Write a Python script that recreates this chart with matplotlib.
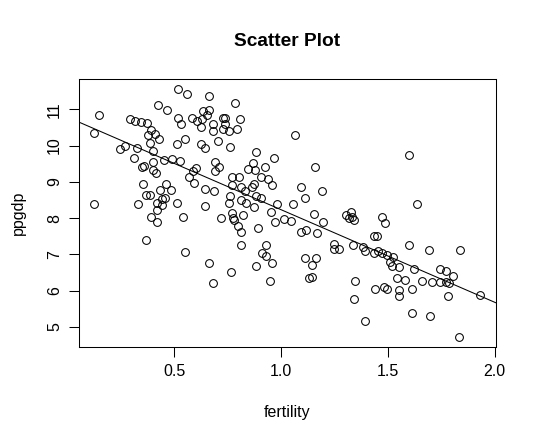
"""Scatter plot of log ppgdp vs log fertility with a least-squares line, R base-graphics look."""

import matplotlib

matplotlib.use("Agg")
import matplotlib.pyplot as plt  # noqa: E402
import numpy as np  # noqa: E402

plt.rcParams["font.family"] = ["Liberation Sans", "DejaVu Sans"]

# values (log scale, as plotted)
fertility = [
    0.519, 0.426, 0.468, 0.150, 0.519, 0.532, 0.293, 0.317, 0.346, 0.373,
    0.392, 0.410, 0.376, 0.431, 0.126, 0.388, 0.512, 0.270, 0.248, 0.326,
    0.401, 0.314, 0.401, 0.454, 0.489, 0.529, 0.348, 0.359, 0.401, 0.415,
    0.356, 0.463, 0.435, 0.487, 0.368, 0.388, 0.457, 0.445, 0.126, 0.332,
    0.421, 0.445, 0.512, 0.421, 0.551, 0.562, 0.664, 0.786, 0.636, 0.664,
    0.655, 0.630, 0.584, 0.606, 0.683, 0.730, 0.739, 0.737, 0.758, 0.730,
    0.796, 0.810, 0.624, 0.683, 0.707, 0.627, 0.643, 0.761, 0.884, 0.969,
    0.693, 0.711, 0.693, 0.870, 0.847, 0.880, 0.927, 0.602, 0.587, 0.571,
    0.593, 0.771, 0.802, 0.908, 0.938, 0.958, 0.771, 0.814, 0.864, 0.874,
    0.643, 0.686, 0.830, 0.761, 0.883, 0.908, 0.814, 0.839, 0.758, 0.983,
    0.646, 0.874, 0.955, 0.771, 0.824, 1.067, 1.161, 1.094, 1.193, 1.112,
    1.058, 1.153, 1.326, 1.307, 1.331, 1.342, 1.320, 1.600, 1.635, 0.393,
    0.421, 0.543, 0.368, 0.551, 0.721, 0.777, 0.781, 0.971, 1.015, 0.800,
    0.814, 0.894, 0.814, 0.931, 0.912, 0.931, 0.662, 0.884, 0.959, 0.767,
    0.683, 0.949, 1.474, 1.488, 1.047, 1.195, 1.094, 1.116, 1.170, 1.434,
    1.451, 1.249, 1.247, 1.273, 1.336, 1.382, 1.393, 1.434, 1.453, 1.471,
    1.497, 1.524, 1.509, 1.519, 1.555, 1.112, 1.162, 1.146, 1.146, 1.131,
    1.346, 1.440, 1.481, 1.496, 1.343, 1.393, 1.598, 1.691, 1.839, 1.622,
    1.744, 1.772, 1.806, 1.544, 1.580, 1.661, 1.705, 1.744, 1.772, 1.785,
    1.554, 1.551, 1.614, 1.783, 1.933, 1.614, 1.699, 1.834,
]
ppgdp = [
    11.57, 11.13, 10.97, 10.84, 10.76, 10.59, 10.72, 10.69, 10.66, 10.62,
    10.43, 10.33, 10.28, 10.19, 10.36, 10.07, 10.04, 9.98, 9.90, 9.94,
    9.84, 9.67, 9.54, 9.60, 9.62, 9.57, 9.42, 9.45, 9.32, 9.25,
    8.93, 8.93, 8.77, 8.77, 8.65, 8.65, 8.56, 8.52, 8.40, 8.40,
    8.42, 8.37, 8.43, 8.22, 10.19, 11.43, 11.36, 11.18, 10.94, 10.97,
    10.83, 10.72, 10.76, 10.69, 10.60, 10.75, 10.75, 10.60, 10.40, 10.47,
    10.47, 10.72, 10.51, 10.40, 10.12, 10.05, 9.92, 9.95, 9.82, 9.67,
    9.55, 9.40, 9.30, 9.51, 9.36, 9.34, 9.40, 9.37, 9.30, 9.12,
    8.96, 9.12, 9.12, 9.12, 9.07, 8.91, 8.91, 8.85, 8.85, 8.93,
    8.80, 8.74, 8.74, 8.61, 8.61, 8.56, 8.50, 8.43, 8.43, 8.40,
    8.34, 8.31, 8.17, 8.14, 8.08, 10.28, 9.42, 8.85, 8.74, 8.55,
    8.40, 8.12, 8.17, 8.08, 8.04, 7.95, 7.99, 9.73, 8.39, 8.02,
    7.88, 8.02, 7.39, 7.06, 8.00, 8.00, 7.96, 7.88, 7.97, 7.78,
    7.61, 7.72, 7.26, 7.25, 7.03, 6.95, 6.75, 6.67, 6.75, 6.51,
    6.21, 6.26, 8.04, 7.87, 7.91, 7.88, 7.61, 7.66, 7.59, 7.50,
    7.50, 7.28, 7.14, 7.14, 7.25, 7.21, 7.08, 7.04, 7.10, 7.04,
    6.98, 6.94, 6.80, 6.68, 6.66, 6.89, 6.89, 6.71, 6.38, 6.34,
    6.27, 6.04, 6.09, 6.04, 5.76, 5.17, 7.25, 7.11, 7.11, 6.59,
    6.59, 6.55, 6.40, 6.34, 6.29, 6.26, 6.24, 6.24, 6.25, 6.20,
    6.02, 5.86, 6.05, 5.86, 5.87, 5.38, 5.29, 4.72,
]
x_ticks = [0.5, 1.0, 1.5, 2.0]
y_ticks = [5, 6, 7, 8, 9, 10, 11]

x = np.asarray(fertility)
y = np.asarray(ppgdp)

W, H = 536, 445
fig = plt.figure(figsize=(W / 100, H / 100), dpi=100)
# R default margins: mar = c(5.1, 4.1, 4.1, 2.1) lines, 1 line = 19.2 px
ax = fig.add_axes([78.7 / W, 98 / H, (495.7 - 78.7) / W, (445 - 98 - 78.7) / H])

ax.plot(x, y, "o", ms=5.6, mfc="none", mec="black", mew=0.75, zorder=3)


def r_lim(v):
    lo, hi = v.min(), v.max()
    pad = 0.04 * (hi - lo)
    return lo - pad, hi + pad


ax.set_xlim(r_lim(x))
ax.set_ylim(r_lim(y))

slope, intercept = np.polyfit(x, y, 1)
xs = np.array(ax.get_xlim())
ax.plot(xs, intercept + slope * xs, color="black", lw=0.75)

ax.set_xticks(x_ticks)
ax.set_xticklabels(["0.5", "1.0", "1.5", "2.0"])
ax.set_yticks(y_ticks)
ax.set_yticklabels([str(v) for v in y_ticks], rotation=90, va="center")
ax.tick_params(direction="out", length=6.9, width=0.75, labelsize=11.5, pad=5)
for s in ax.spines.values():
    s.set_linewidth(0.75)

fig.text(0.5 * (78.7 + 495.7) / W, 1 - 42 / H, "Scatter Plot", ha="center", va="center",
         fontsize=13.8, fontweight="bold")
fig.text(0.5 * (78.7 + 495.7) / W, 1 - 412 / H, "fertility", ha="center", va="center", fontsize=11.5)
fig.text(18 / W, 1 - 0.5 * (78.7 + 347) / H, "ppgdp", ha="center", va="center",
         rotation=90, fontsize=11.5)

fig.savefig("out.png", dpi=100)
plt.close(fig)
